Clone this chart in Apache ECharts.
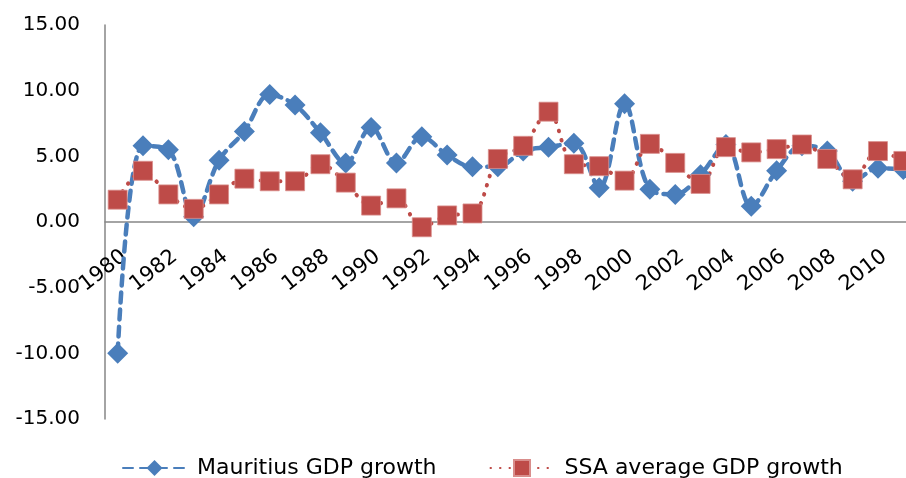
<!DOCTYPE html>
<html>
<head>
<meta charset="utf-8">
<script src="https://cdn.jsdelivr.net/npm/echarts@6/dist/echarts.min.js"></script>
<style>html,body{margin:0;padding:0;background:#fff;overflow:hidden}#c{width:906px;height:478px}</style>
</head>
<body>
<div id="c"></div>
<script>
const years = ['1980','1981','1982','1983','1984','1985','1986','1987','1988','1989','1990','1991','1992','1993','1994','1995','1996','1997','1998','1999','2000','2001','2002','2003','2004','2005','2006','2007','2008','2009','2010','2011'];
const mauritius = [-10.0, 5.8, 5.5, 0.4, 4.7, 6.9, 9.7, 8.9, 6.8, 4.5, 7.2, 4.5, 6.5, 5.1, 4.2, 4.2, 5.4, 5.7, 6.0, 2.6, 9.0, 2.5, 2.1, 3.6, 5.9, 1.2, 3.9, 5.8, 5.4, 3.1, 4.1, 4.0];
const ssa = [1.7, 3.9, 2.1, 1.0, 2.1, 3.3, 3.1, 3.1, 4.4, 3.0, 1.25, 1.8, -0.4, 0.5, 0.65, 4.8, 5.8, 8.4, 4.4, 4.25, 3.15, 5.95, 4.5, 2.9, 5.7, 5.3, 5.55, 5.9, 4.8, 3.25, 5.4, 4.65];
const seriesNames = ['Mauritius GDP growth', 'SSA average GDP growth'];
const yMin = -15, yMax = 15, yStep = 5;

const chart = echarts.init(document.getElementById('c'), null, {renderer: 'canvas'});
const font = 'DejaVu Sans';
const gridTop = 25, gridBottom = 59, chartH = 478;
const plotH = chartH - gridTop - gridBottom;
// place the category axis at value 0
const zeroOffset = -plotH * (0 - yMin) / (yMax - yMin);

chart.setOption({
  animation: false,
  grid: {left: 105, width: 811, top: gridTop, bottom: gridBottom, containLabel: false, outerBoundsMode: 'none'},
  xAxis: {
    type: 'category',
    data: years,
    boundaryGap: true,
    position: 'bottom',
    offset: zeroOffset,
    axisLine: {onZero: false, lineStyle: {color: '#868686', width: 1.5}},
    axisTick: {show: false},
    axisLabel: {interval: 1, rotate: 38, margin: 24, align: 'right', verticalAlign: 'top',
      color: '#000', fontFamily: font, fontSize: 21}
  },
  yAxis: {
    type: 'value',
    min: yMin, max: yMax, interval: yStep,
    axisLine: {show: true, lineStyle: {color: '#868686', width: 1.5}},
    axisTick: {show: false},
    splitLine: {show: false},
    axisLabel: {margin: 25, color: '#000', fontFamily: font, fontSize: 20,
      formatter: v => v.toFixed(2)}
  },
  legend: {
    left: 117, top: 452,
    itemWidth: 63, itemHeight: 20, itemGap: 53,
    textStyle: {fontFamily: font, fontSize: 22, color: '#000', padding: [0, 0, 0, 6]},
    data: seriesNames
  },
  series: [
    {
      name: seriesNames[0], type: 'line', data: mauritius, smooth: 0.35,
      symbol: 'diamond', symbolSize: 21, showAllSymbol: true,
      itemStyle: {color: '#4A7EBB'},
      lineStyle: {color: '#4A7EBB', width: 4.5, type: [10, 7], cap: 'round'}
    },
    {
      name: seriesNames[1], type: 'line', data: ssa, smooth: 0.35,
      symbol: 'rect', symbolSize: 19, showAllSymbol: true,
      itemStyle: {color: '#BE4B48', borderColor: '#D98E8C', borderWidth: 0.8},
      lineStyle: {color: '#BE4B48', width: 4, type: [0.5, 9], cap: 'round'}
    }
  ]
});
</script>
</body>
</html>
